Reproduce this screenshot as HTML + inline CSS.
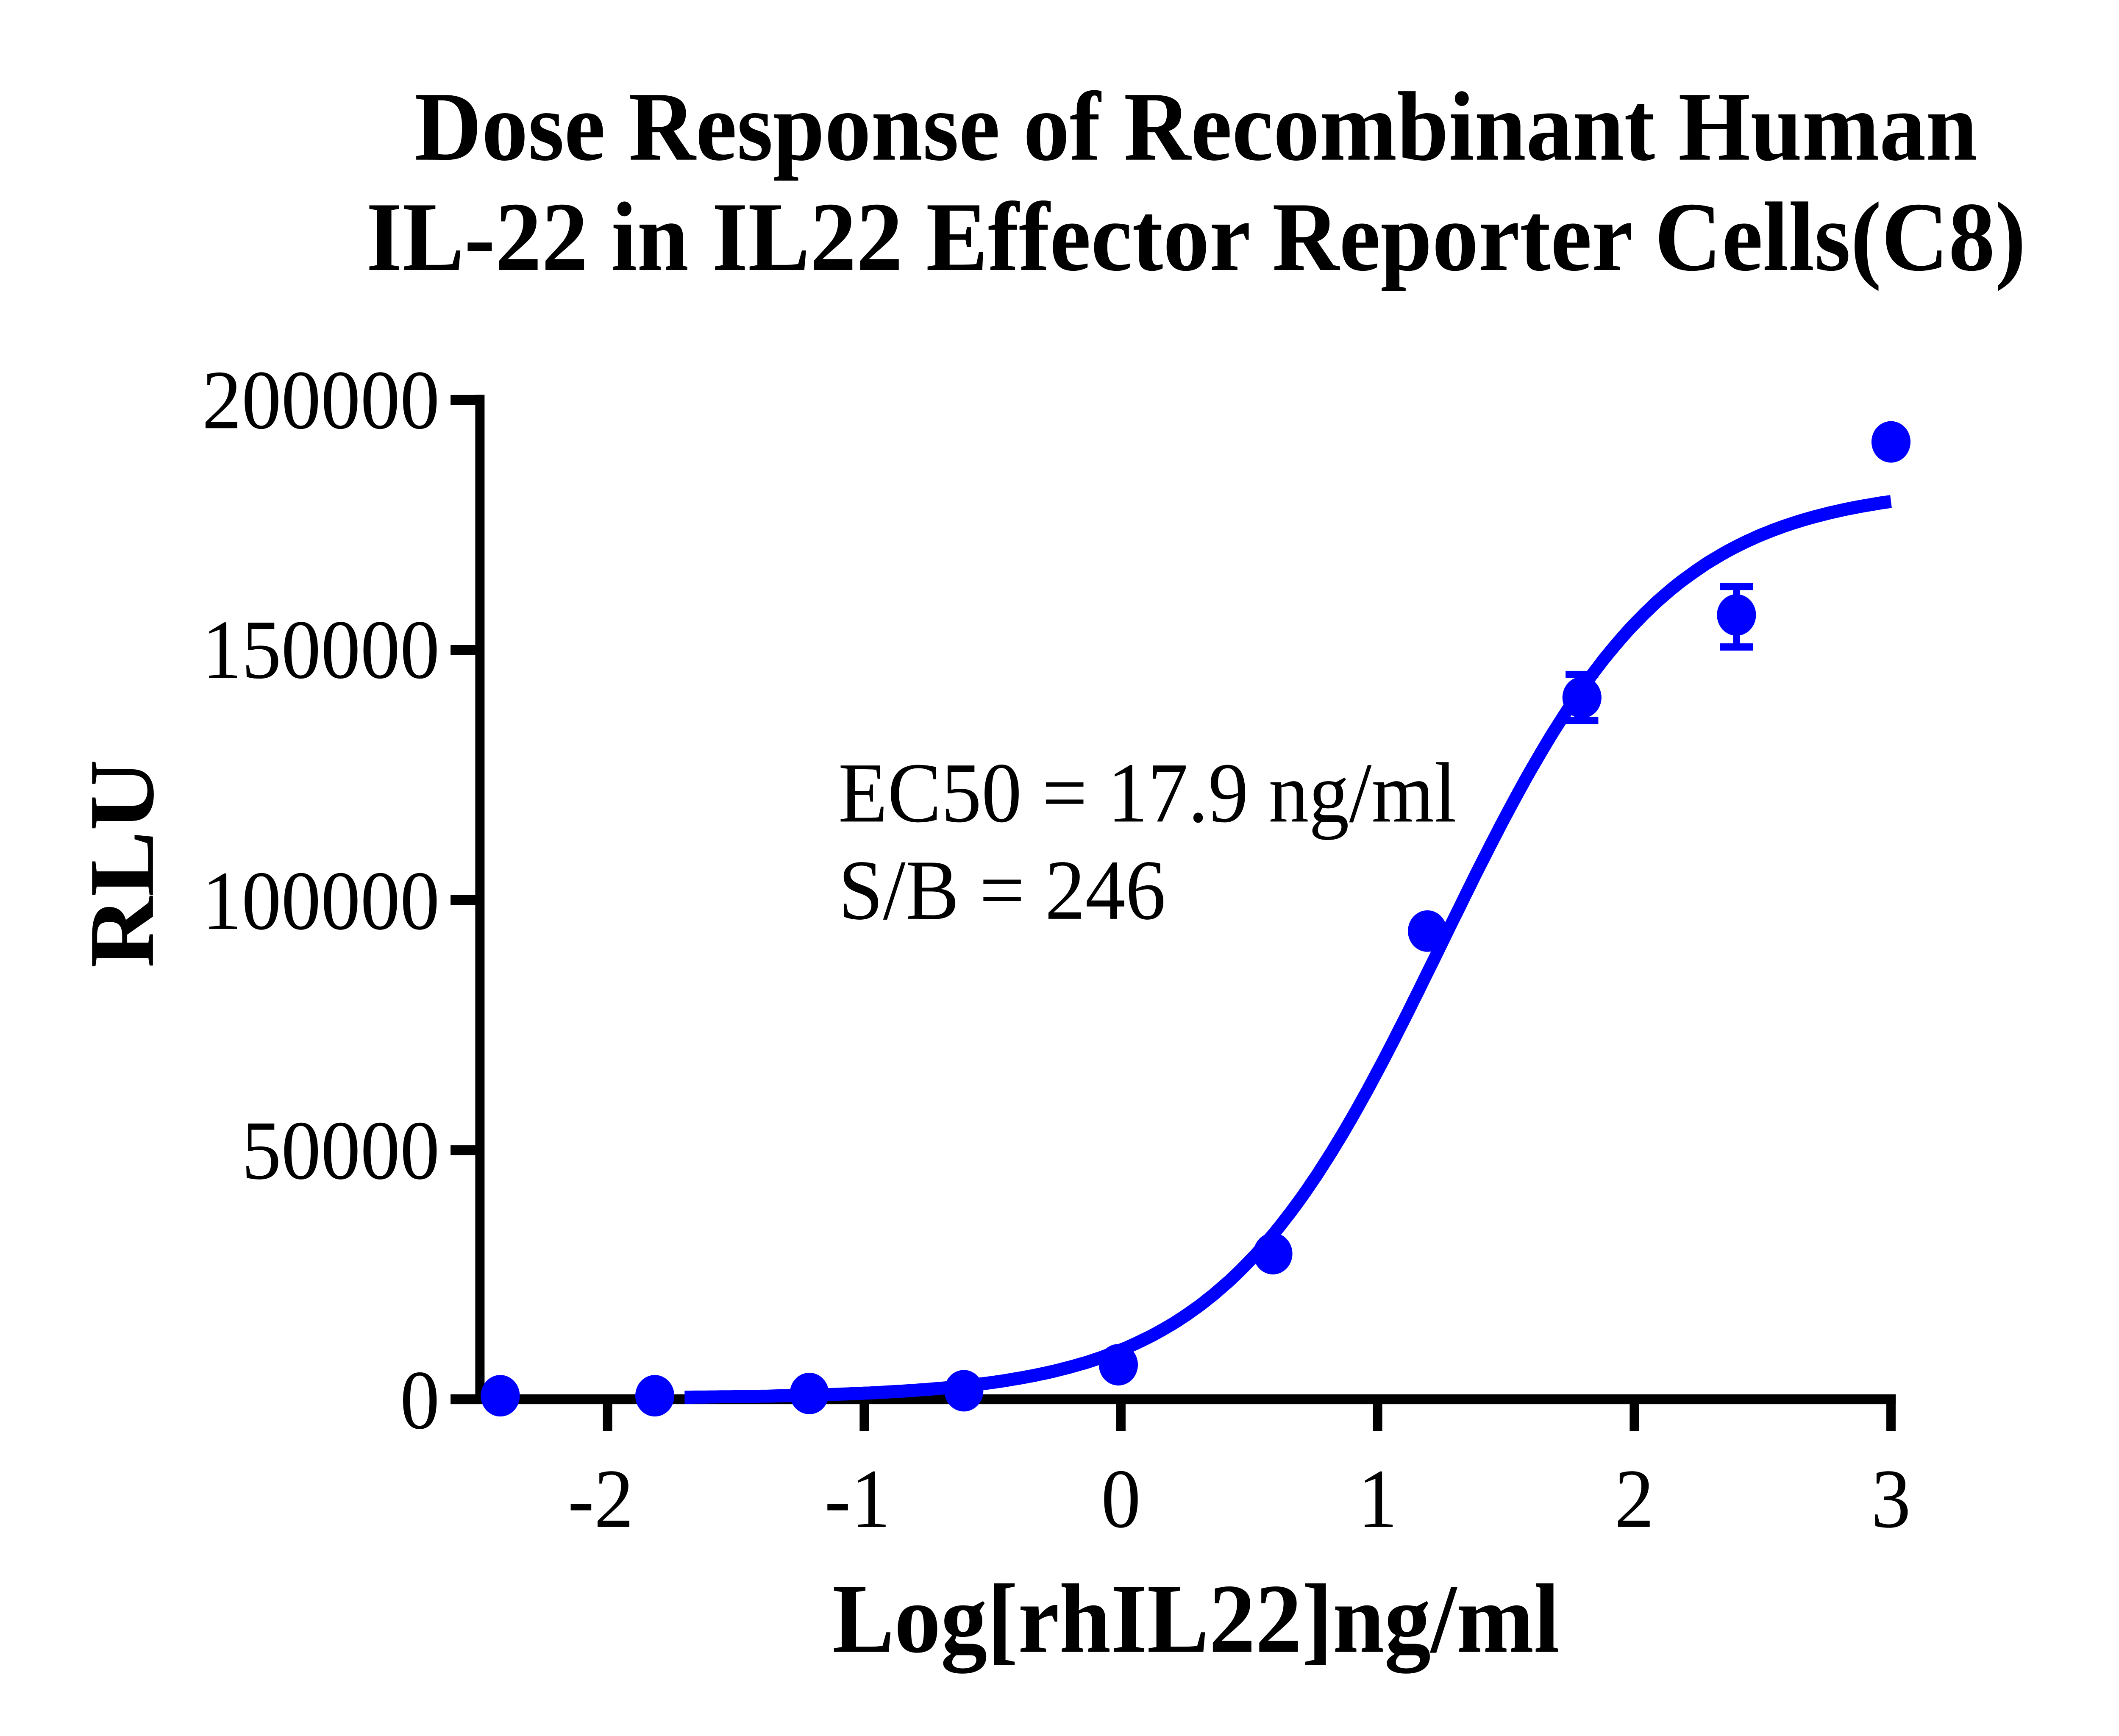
<!DOCTYPE html>
<html><head><meta charset="utf-8"><style>
html,body{margin:0;padding:0;background:#fff;overflow:hidden;width:100%;height:100%;}
svg{display:block;position:absolute;left:0;top:0;width:100vw;height:100vh;}
text{font-family:"Liberation Serif",serif;fill:#000;}
</style></head><body>
<svg id="s" viewBox="0 0 1552 1196" preserveAspectRatio="none" xmlns="http://www.w3.org/2000/svg">
<rect width="1552" height="1196" fill="#fff"/>
<text x="876" y="110" font-size="68" font-weight="bold" text-anchor="middle">Dose Response of Recombinant Human</text>
<text x="876" y="186" font-size="68" font-weight="bold" text-anchor="middle">IL-22 in IL22 Effector Reporter Cells(C8)</text>
<g stroke="#000" stroke-width="6.8" fill="none">
<line x1="351.5" y1="272" x2="351.5" y2="967"/>
<line x1="330" y1="964" x2="1388.5" y2="964"/>
<line x1="330" y1="275.5" x2="352" y2="275.5"/>
<line x1="330" y1="447.8" x2="352" y2="447.8"/>
<line x1="330" y1="620.1" x2="352" y2="620.1"/>
<line x1="330" y1="792.4" x2="352" y2="792.4"/>
<line x1="445" y1="964" x2="445" y2="986"/>
<line x1="633" y1="964" x2="633" y2="986"/>
<line x1="821" y1="964" x2="821" y2="986"/>
<line x1="1009" y1="964" x2="1009" y2="986"/>
<line x1="1197" y1="964" x2="1197" y2="986"/>
<line x1="1385" y1="964" x2="1385" y2="986"/>
</g>
<g font-size="58" text-anchor="end">
<text x="322" y="295">200000</text>
<text x="322" y="467">150000</text>
<text x="322" y="640">100000</text>
<text x="322" y="812">50000</text>
<text x="322" y="984">0</text>
</g>
<g font-size="58" text-anchor="middle">
<text x="440" y="1052">-2</text>
<text x="628" y="1052">-1</text>
<text x="821" y="1052">0</text>
<text x="1009" y="1052">1</text>
<text x="1197" y="1052">2</text>
<text x="1385" y="1052">3</text>
</g>
<text x="876" y="1138" font-size="68" font-weight="bold" text-anchor="middle">Log[rhIL22]ng/ml</text>
<text transform="translate(112,595) rotate(-90)" font-size="68" font-weight="bold" text-anchor="middle">RLU</text>
<text x="614" y="566" font-size="59">EC50 = 17.9 ng/ml</text>
<text x="614" y="633" font-size="59">S/B = 246</text>
<polyline id="curve" fill="none" stroke="#0000ff" stroke-width="9" points=""/>
<g id="err" stroke="#0000ff" stroke-width="5"></g>
<g id="dots" fill="#0000ff"></g>
</svg>
<script>
function X(l){return 821+l*188;}
function Y(v){return 964-v/50000*172.3;}
var pts=[];
for(var x=-1.70;x<=3.0001;x+=0.02){
 var y=200+182500/(1+Math.pow(10,1.253-x));
 pts.push(X(x).toFixed(1)+","+Y(y).toFixed(1));
}
document.getElementById("curve").setAttribute("points",pts.join(" "));
var vals=[191400,156800,140300,93600,29100,6900,1700,1150,700,700];
var ns="http://www.w3.org/2000/svg",g=document.getElementById("dots"),e=document.getElementById("err");
for(var k=0;k<10;k++){
 var c=document.createElementNS(ns,"circle");
 c.setAttribute("cx",X(3-0.602*k));c.setAttribute("cy",Y(vals[k]));c.setAttribute("r",14.3);
 g.appendChild(c);
}
function bar(l,lo,hi){
 var cx=X(l),a=Y(hi),b=Y(lo);
 e.innerHTML+='<line x1="'+cx+'" y1="'+a+'" x2="'+cx+'" y2="'+b+'"/><line x1="'+(cx-12)+'" y1="'+a+'" x2="'+(cx+12)+'" y2="'+a+'"/><line x1="'+(cx-12)+'" y1="'+b+'" x2="'+(cx+12)+'" y2="'+b+'"/>';
}
bar(3-0.602,150400,162500);
bar(3-1.204,135700,144900);
</script>
</body></html>
